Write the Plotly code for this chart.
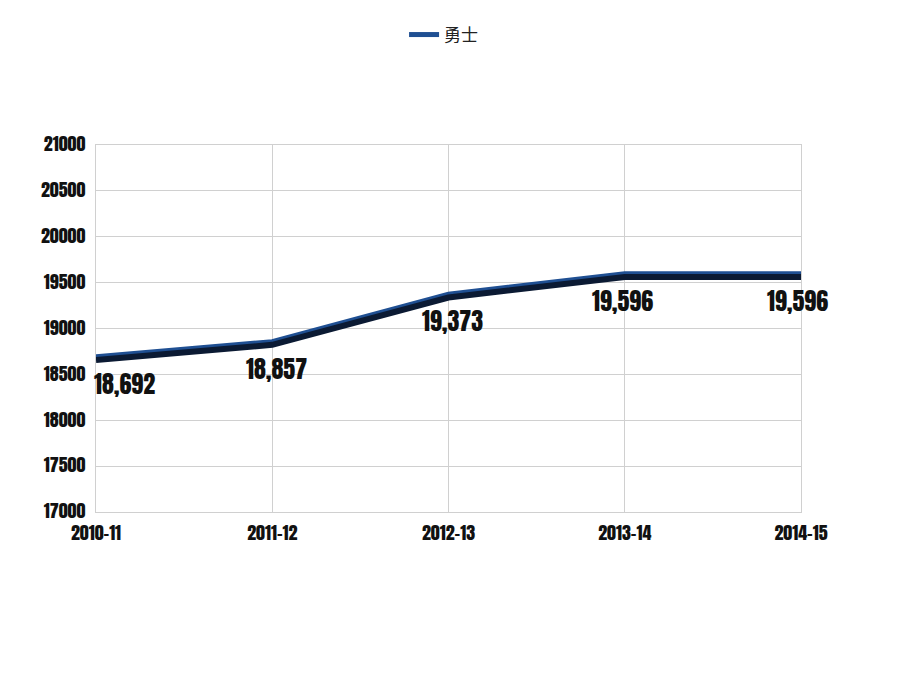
import plotly.graph_objects as go

seasons = ["2010-11", "2011-12", "2012-13", "2013-14", "2014-15"]
values = [18692, 18857, 19373, 19596, 19596]
value_labels = ["18,692", "18,857", "19,373", "19,596", "19,596"]
series_name = "勇士"
y_ticks = [17000, 17500, 18000, 18500, 19000, 19500, 20000, 20500, 21000]

FONT = "Anton, Oswald, Impact, sans-serif"

x_idx = list(range(len(seasons)))
label_xshift = [28, 4, 4, -2, -4]

fig = go.Figure()
# shadow line (drawn on an offset overlay axis)
fig.add_trace(go.Scatter(
    x=x_idx, y=values, mode="lines", yaxis="y2",
    line=dict(color="#0b1a33", width=6), showlegend=False, hoverinfo="skip"))
# main line
fig.add_trace(go.Scatter(
    x=x_idx, y=values, mode="lines", name=series_name,
    line=dict(color="#1f4f92", width=5)))

for xi, v, lab, xs in zip(x_idx, values, value_labels, label_xshift):
    fig.add_annotation(x=xi, y=v, text=lab, showarrow=False, yanchor="top",
                       yshift=-7, xshift=xs,
                       font=dict(family=FONT, size=24, color="#111111"))

fig.update_layout(
    width=900, height=675,
    paper_bgcolor="white", plot_bgcolor="white",
    margin=dict(l=88, r=107, t=137, b=171, autoexpand=False),
    showlegend=True,
    legend=dict(orientation="h", x=0.493, xanchor="center", y=0.96, yanchor="middle",
                yref="container", itemwidth=30,
                font=dict(family="Noto Sans CJK SC", size=17, color="#222")),
    xaxis=dict(range=[0, 4], tickmode="array", tickvals=x_idx, ticktext=seasons,
               showgrid=True, gridcolor="#d0d0d0", gridwidth=1,
               zeroline=False, showline=True, linecolor="#d0d0d0",
               tickfont=dict(family=FONT, size=18, color="#111"), ticks="",
               ticklabelstandoff=5, mirror=True),
    yaxis=dict(range=[17000, 21000], tickvals=y_ticks, ticktext=[str(v) for v in y_ticks],
               showgrid=True, gridcolor="#d0d0d0", gridwidth=1, zeroline=False,
               showline=True, linecolor="#d0d0d0", mirror=True,
               tickfont=dict(family=FONT, size=18, color="#111"), ticks="",
               ticklabelstandoff=6),
    yaxis2=dict(range=[17035, 21035], overlaying="y", visible=False),
)
fig.write_html("out.html")
